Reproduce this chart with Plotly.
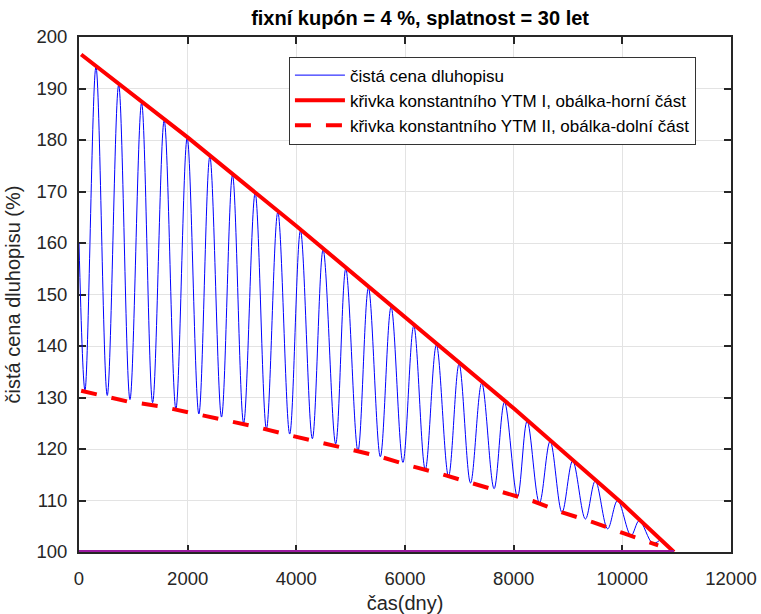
import plotly.graph_objects as go

# --- data ---
price_days = [0, 110, 312, 520, 730, 938, 1152, 1355, 1568, 1783, 1991, 2206, 2408, 2623,
              2825, 3030, 3242, 3450, 3659, 3878, 4076, 4295, 4493, 4724, 4910, 5134, 5327,
              5546, 5744, 5962, 6161, 6373, 6578, 6801, 6995, 7206, 7412, 7640, 7831, 8070,
              8248, 8474, 8671, 8890, 9086, 9320, 9503, 9730, 9913, 10160, 10312, 10558, 10690]
price_vals = [160.0, 131.4, 194.2, 130.4, 190.7, 129.6, 187.2, 129.0, 183.8, 127.8, 180.4,
              126.8, 176.8, 126.2, 173.2, 125.0, 169.7, 123.9, 166.0, 122.9, 162.4, 122.0,
              158.7, 121.0, 155.0, 119.6, 151.3, 118.5, 147.6, 117.4, 143.9, 116.0, 140.2,
              114.7, 136.5, 113.4, 132.8, 112.3, 129.1, 110.7, 125.4, 109.5, 121.5, 107.7,
              117.7, 106.4, 113.8, 104.5, 110.0, 103.2, 106.1, 101.7, 102.3]

upper_days = [40, 2000, 4000, 6000, 8000, 10000, 10950]
upper_vals = [196.6, 180.5, 163.3, 145.6, 127.9, 109.4, 100.0]

lower_days = [40, 906, 1489, 2072, 2653, 3217, 3787, 4370, 4939, 5515, 6072, 6649, 7219,
              7770, 8351, 8892, 9454, 10005, 10557, 10660]
lower_vals = [131.3, 129.2, 128.3, 127.0, 125.7, 124.4, 122.9, 121.5, 120.0, 118.6, 116.8,
              115.2, 113.4, 111.6, 109.9, 107.7, 105.8, 103.7, 101.7, 101.3]

par_days = [0, 10950]
par_vals = [100, 100]

names = ["čistá cena dluhopisu",
         "křivka konstantního YTM I, obálka-horní část",
         "křivka konstantního YTM II, obálka-dolní část"]

FONT = "Liberation Sans, Arial, sans-serif"
AX = "#262626"

fig = go.Figure()
fig.add_trace(go.Scatter(x=price_days, y=price_vals, mode="lines", name=names[0],
                         line=dict(color="#0000ff", width=1, shape="spline", smoothing=1.0)))
fig.add_trace(go.Scatter(x=upper_days, y=upper_vals, mode="lines", name=names[1],
                         line=dict(color="#ff0000", width=4)))
fig.add_trace(go.Scatter(x=lower_days, y=lower_vals, mode="lines", name=names[2],
                         line=dict(color="#ff0000", width=4, dash="16px,15px")))
fig.add_trace(go.Scatter(x=par_days, y=par_vals, mode="lines", showlegend=False,
                         line=dict(color="#9b1aa0", width=4), hoverinfo="skip"))

axis_common = dict(showline=True, linecolor=AX, linewidth=2, mirror="allticks",
                   ticks="inside", ticklen=7, tickwidth=1.5, tickcolor=AX,
                   showgrid=True, gridcolor="#e3e3e3", gridwidth=1, zeroline=False,
                   layer="below traces",
                   tickfont=dict(family=FONT, size=18.5, color=AX), automargin=False)

fig.update_xaxes(range=[0, 12000], dtick=2000, tick0=0, tickformat="d", ticklabelstandoff=9,
                 title=dict(text="čas(dny)", font=dict(family=FONT, size=20, color=AX), standoff=8),
                 **axis_common)
fig.update_yaxes(range=[100, 200], dtick=10, tick0=100, tickformat="d", ticklabelstandoff=6,
                 title=dict(text="čistá cena dluhopisu (%)", font=dict(family=FONT, size=20, color=AX),
                            standoff=10),
                 **axis_common)

fig.update_layout(
    width=761, height=614, autosize=False,
    margin=dict(l=79, r=30, t=37, b=62),
    paper_bgcolor="white", plot_bgcolor="white",
    title=dict(text="<b>fixní kupón = 4 %, splatnost = 30 let</b>", x=0.552, xanchor="center",
               y=0.97, yanchor="middle", font=dict(family=FONT, size=20, color="#000000")),
    legend=dict(x=0.322, y=0.962, xanchor="left", yanchor="top", bgcolor="white",
                bordercolor="#333333", borderwidth=1, itemwidth=50,
                font=dict(family=FONT, size=17, color="#000000"), tracegroupgap=0),
    showlegend=True,
)

fig.write_html("out.html")
